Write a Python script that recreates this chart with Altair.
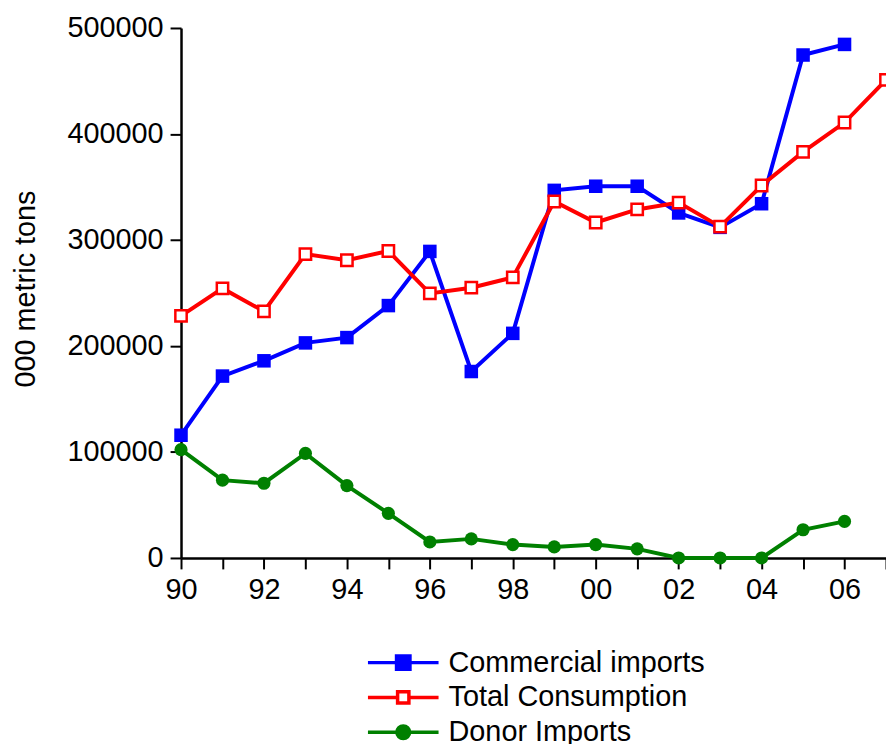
import altair as alt
import pandas as pd

years_commercial = list(range(1990, 2007))
commercial = [115800, 171600, 186000, 202900, 207900, 238100, 289200, 175900, 211900,
              346800, 350700, 350700, 325500, 311900, 334200, 474500, 484500]

years_total = list(range(1990, 2008))
total = [228400, 254300, 232700, 286700, 280900, 289600, 249600, 255000, 264700,
         336300, 316500, 328800, 335300, 312600, 351400, 383100, 410800, 451100]

years_donor = list(range(1990, 2007))
donor = [102200, 73400, 70500, 98600, 68300, 42100, 15100, 18000, 12600,
         10400, 12600, 8600, 0, 0, 0, 26600, 34500]

series_names = ["Commercial imports", "Total Consumption", "Donor Imports"]
series_colors = ["#0000ff", "#ff0000", "#008000"]
series_fills = ["#0000ff", "#ffffff", "#008000"]
legend_paths = [
    "M-1,0H1M-0.19,-0.19H0.19V0.19H-0.19Z",
    "M-1,0H-0.16M0.16,0H1M-0.16,-0.16H0.16V0.16H-0.16Z",
    "M-1,0H1M-0.18,0A0.18,0.18 0 1,0 0.18,0A0.18,0.18 0 1,0 -0.18,0Z",
]

rows = []
for y, v in zip(years_commercial, commercial):
    rows.append({"year": y, "value": v, "series": series_names[0]})
for y, v in zip(years_total, total):
    rows.append({"year": y, "value": v, "series": series_names[1]})
for y, v in zip(years_donor, donor):
    rows.append({"year": y, "value": v, "series": series_names[2]})
df = pd.DataFrame(rows)

FONT = "Liberation Sans"
FS = 29

x_enc = alt.X(
    "year:Q",
    scale=alt.Scale(domain=[1990, 2007], nice=False, zero=False),
    axis=alt.Axis(
        values=list(range(1990, 2008)),
        labelExpr="datum.value % 2 == 0 ? format(datum.value % 100, '02d') : ''",
        title=None,
        labelOverlap=False,
        labelFlush=False,
        tickSize=11,
        labelPadding=7,
        grid=False,
    ),
)
y_enc = alt.Y(
    "value:Q",
    scale=alt.Scale(domain=[0, 500000], nice=False),
    axis=alt.Axis(
        values=[0, 100000, 200000, 300000, 400000, 500000],
        format="d",
        title="000 metric tons",
        titleX=-147,
        titleY=262,
        titleBaseline="alphabetic",
        titleAngle=270,
        labelFlush=False,
        tickSize=11,
        labelPadding=7,
        grid=False,
    ),
)

layers = []
for name, col in zip(series_names, series_colors):
    layers.append(
        alt.Chart(df).transform_filter(alt.datum.series == name)
        .mark_line(strokeWidth=4, color=col)
        .encode(x=x_enc, y=y_enc)
    )

layers.append(
    alt.Chart(df).transform_filter(alt.datum.series == series_names[0])
    .mark_point(shape="square", filled=True, size=185, color="#0000ff", opacity=1)
    .encode(x=x_enc, y=y_enc)
)
layers.append(
    alt.Chart(df).transform_filter(alt.datum.series == series_names[1])
    .mark_point(shape="square", size=130, stroke="#ff0000", fill="#ffffff",
                fillOpacity=1, strokeWidth=2.5, opacity=1)
    .encode(x=x_enc, y=y_enc)
)
layers.append(
    alt.Chart(df).transform_filter(alt.datum.series == series_names[2])
    .mark_point(shape="circle", filled=True, size=175, color="#008000", opacity=1)
    .encode(x=x_enc, y=y_enc)
)

legend = alt.Legend(
    title=None,
    orient="none",
    legendX=186,
    legendY=621,
    symbolSize=5041,
    symbolStrokeWidth=3.5,
    clipHeight=34.5,
    rowPadding=0,
    labelOffset=8,
    labelFont=FONT,
    labelFontSize=FS,
    labelColor="#000000",
    labelLimit=400,
    padding=0,
)

legend_layer = (
    alt.Chart(df).transform_filter("false")
    .mark_point(size=5041, strokeWidth=3.5, opacity=1, fillOpacity=1)
    .encode(
        x=x_enc,
        y=y_enc,
        stroke=alt.Stroke("series:N", scale=alt.Scale(domain=series_names, range=series_colors),
                          sort=series_names, legend=legend),
        fill=alt.Fill("series:N", scale=alt.Scale(domain=series_names, range=series_fills),
                      sort=series_names, legend=legend),
        shape=alt.Shape("series:N", scale=alt.Scale(domain=series_names, range=legend_paths),
                        sort=series_names, legend=legend),
    )
)
layers.append(legend_layer)

chart = alt.layer(*layers).properties(
    width=709,
    height=533,
    autosize=alt.AutoSizeParams(type="none"),
    padding={"left": 174, "top": 18, "right": 0, "bottom": 185},
    background="#ffffff",
).configure_view(
    stroke=None
).configure_axis(
    labelFont=FONT,
    labelFontSize=FS,
    labelColor="#000000",
    titleFont=FONT,
    titleFontSize=FS,
    titleFontWeight="normal",
    titleColor="#000000",
    domainColor="#000000",
    domainWidth=2.5,
    tickColor="#000000",
    tickWidth=2,
)

chart.save("out.html", embed_options={"renderer": "svg", "actions": False})
